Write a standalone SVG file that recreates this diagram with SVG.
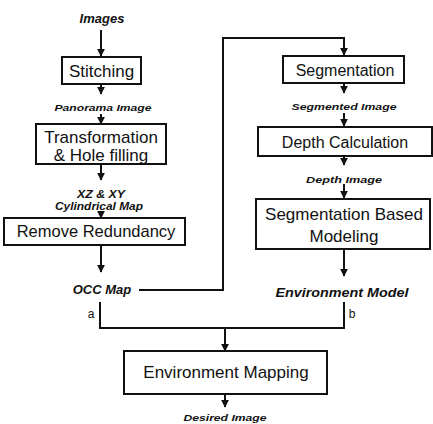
<svg xmlns="http://www.w3.org/2000/svg" width="433" height="424" viewBox="0 0 433 424">
<style>
.box{fill:#fff;stroke:#111;stroke-width:2}
.nt{font-family:"Liberation Sans",Arial,sans-serif;fill:#111;text-anchor:middle}
.lb{font-family:"Liberation Sans",Arial,sans-serif;font-weight:bold;font-style:italic;fill:#111;text-anchor:middle}
.ln{fill:none;stroke:#111;stroke-width:2}
</style>
<defs>
<marker id="ah" viewBox="0 0 10 10" refX="9" refY="5" markerWidth="4" markerHeight="4" orient="auto" markerUnits="strokeWidth">
<path d="M0,0 L10,5 L0,10 z" fill="#111"/>
</marker>
</defs>
<rect width="433" height="424" fill="#fff"/>
<g id="connectors">
<line class="ln" x1="101" y1="30" x2="101" y2="56" marker-end="url(#ah)"/>
<line class="ln" x1="101" y1="84" x2="101" y2="94" marker-end="url(#ah)"/>
<line class="ln" x1="101" y1="114" x2="101" y2="124" marker-end="url(#ah)"/>
<line class="ln" x1="101" y1="164" x2="101" y2="180" marker-end="url(#ah)"/>
<line class="ln" x1="101" y1="212" x2="101" y2="218" marker-end="url(#ah)"/>
<line class="ln" x1="101" y1="245" x2="101" y2="272" marker-end="url(#ah)"/>
<polyline class="ln" points="139,290 223,290 223,38 344,38 344,55" marker-end="url(#ah)"/>
<line class="ln" x1="344" y1="83" x2="344" y2="93" marker-end="url(#ah)"/>
<line class="ln" x1="344" y1="113" x2="344" y2="126" marker-end="url(#ah)"/>
<line class="ln" x1="344" y1="156" x2="344" y2="165" marker-end="url(#ah)"/>
<line class="ln" x1="344" y1="184" x2="344" y2="198" marker-end="url(#ah)"/>
<line class="ln" x1="344" y1="249" x2="344" y2="276" marker-end="url(#ah)"/>
<polyline class="ln" points="100,302 100,328 344,328 344,302"/>
<line class="ln" x1="225" y1="328" x2="225" y2="351" marker-end="url(#ah)"/>
<line class="ln" x1="225" y1="394" x2="225" y2="407" marker-end="url(#ah)"/>
<text x="91" y="318" font-family="Liberation Sans, Arial, sans-serif" font-size="12" fill="#111" text-anchor="middle">a</text>
<text x="352" y="318" font-family="Liberation Sans, Arial, sans-serif" font-size="12" fill="#111" text-anchor="middle">b</text>
</g>
<g id="images"><text class="lb" x="102" y="23" font-size="13">Images</text></g>
<g id="stitching"><rect class="box" x="62" y="57" width="79" height="27"/><text class="nt" x="101.5" y="77" font-size="17">Stitching</text></g>
<g id="panorama"><text class="lb" x="103" y="111" font-size="9.5" textLength="97" lengthAdjust="spacingAndGlyphs">Panorama Image</text></g>
<g id="transformation"><rect class="box" x="36" y="124" width="130" height="40"/><text class="nt" x="101" y="143" font-size="17">Transformation</text><text class="nt" x="101" y="161" font-size="17">&amp; Hole filling</text></g>
<g id="cylmap"><text class="lb" x="101" y="198" font-size="10" textLength="48" lengthAdjust="spacingAndGlyphs">XZ &amp; XY</text><text class="lb" x="99" y="210" font-size="10" textLength="88" lengthAdjust="spacingAndGlyphs">Cylindrical Map</text></g>
<g id="redundancy"><rect class="box" x="4" y="218" width="181" height="27"/><text class="nt" x="96" y="237" font-size="16.5">Remove Redundancy</text></g>
<g id="occ"><text class="lb" x="102" y="294" font-size="13">OCC Map</text></g>
<g id="segmentation"><rect class="box" x="283" y="56" width="121" height="27"/><text class="nt" x="345" y="76" font-size="16">Segmentation</text></g>
<g id="segimg"><text class="lb" x="344" y="110" font-size="9.5" textLength="105" lengthAdjust="spacingAndGlyphs">Segmented Image</text></g>
<g id="depthcalc"><rect class="box" x="258" y="127" width="174" height="29"/><text class="nt" x="345" y="148" font-size="16">Depth Calculation</text></g>
<g id="depthimg"><text class="lb" x="344" y="183" font-size="9.5" textLength="76" lengthAdjust="spacingAndGlyphs">Depth Image</text></g>
<g id="segmodel"><rect class="box" x="256" y="199" width="174" height="50"/><text class="nt" x="344" y="220" font-size="17">Segmentation Based</text><text class="nt" x="344" y="242" font-size="17">Modeling</text></g>
<g id="envmodel"><text class="lb" x="342" y="297" font-size="13" textLength="133" lengthAdjust="spacingAndGlyphs">Environment Model</text></g>
<g id="envmapping"><rect class="box" x="124" y="351" width="203" height="43"/><text class="nt" x="226" y="378" font-size="17">Environment Mapping</text></g>
<g id="desired"><text class="lb" x="225" y="421" font-size="9.5" textLength="83" lengthAdjust="spacingAndGlyphs">Desired Image</text></g>
</svg>
